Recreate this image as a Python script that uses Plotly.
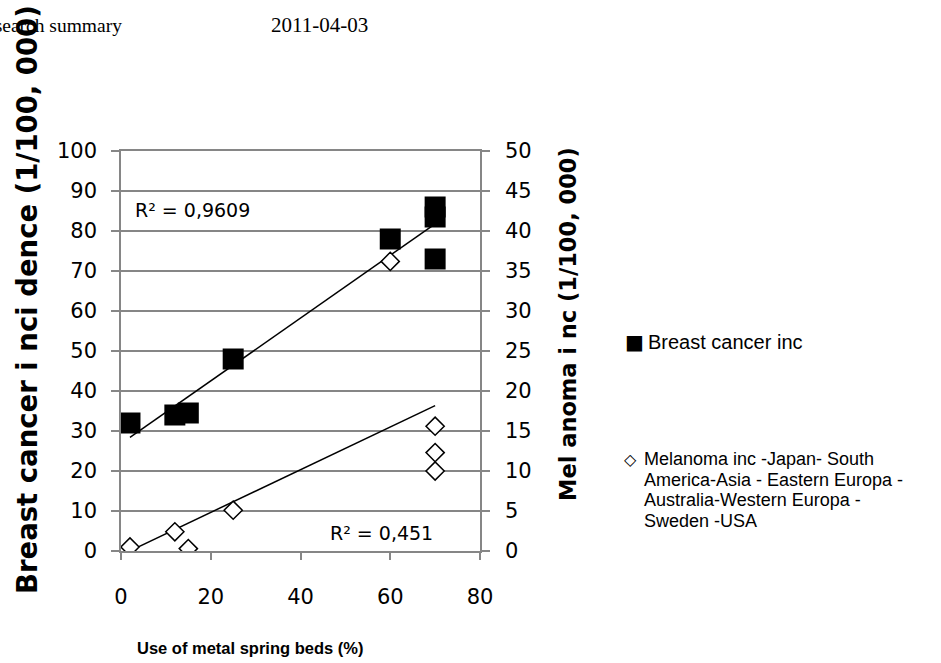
import numpy as np
import plotly.graph_objects as go

# ---- data ----
bed_use = [2, 12, 15, 25, 60, 70, 70, 70]            # Use of metal spring beds (%)
breast_inc = [32, 34, 34.5, 48, 78, 86, 83.5, 73]     # Breast cancer incidence (1/100,000)
melanoma_inc = [0.5, 2.4, 0.3, 5.1, 36.2, 15.6, 12.3, 10.0]  # Melanoma incidence (1/100,000)
x_ticks = [0, 20, 40, 60, 80]
r2_breast = "R² = 0,9609"
r2_melanoma = "R² = 0,451"
legend_breast = "Breast cancer inc"
legend_melanoma = ["Melanoma inc -Japan- South",
                   "America-Asia - Eastern Europa -",
                   "Australia-Western Europa -",
                   "Sweden -USA"]

# ---- layout helpers (pixel -> paper) ----
W, H = 941, 663
L, R, T, B = 121, 480, 151, 551
def px(x):
    return (x - L) / (R - L)
def py(y):
    return (B - y) / (B - T)

GRID = "#868686"
TICKFONT = dict(family="DejaVu Sans", size=21, color="black")

# trendlines from data
xs = np.array([min(bed_use), max(bed_use)], dtype=float)
cb = np.polyfit(bed_use, breast_inc, 1)
cm = np.polyfit(bed_use, melanoma_inc, 1)

fig = go.Figure()
fig.add_trace(go.Scatter(x=xs, y=np.polyval(cb, xs), mode="lines",
                         line=dict(color="black", width=1.5), showlegend=False, yaxis="y"))
fig.add_trace(go.Scatter(x=xs, y=np.polyval(cm, xs), mode="lines",
                         line=dict(color="black", width=1.5), showlegend=False, yaxis="y2"))
fig.add_trace(go.Scatter(x=bed_use, y=breast_inc, mode="markers", name=legend_breast,
                         marker=dict(symbol="square", size=21, color="black"),
                         showlegend=False, yaxis="y"))
fig.add_trace(go.Scatter(x=bed_use, y=melanoma_inc, mode="markers", name=legend_melanoma[0],
                         marker=dict(symbol="diamond", size=14, color="white",
                                     line=dict(color="black", width=1.5)),
                         showlegend=False, yaxis="y2"))

fig.update_layout(
    width=W, height=H,
    margin=dict(l=L, r=W - R, t=T, b=H - B, pad=0),
    plot_bgcolor="white", paper_bgcolor="white",
    showlegend=False,
    xaxis=dict(range=[0, 80], tickvals=x_ticks, showgrid=False, zeroline=False,
               showline=True, linecolor=GRID, linewidth=1.5, mirror=True,
               ticks="outside", ticklen=7, tickcolor=GRID, tickwidth=1.5,
               tickfont=TICKFONT, ticklabelstandoff=19),
    yaxis=dict(range=[0, 100], dtick=10, showgrid=True, gridcolor=GRID, gridwidth=1.5,
               zeroline=False, showline=True, linecolor=GRID, linewidth=1.5,
               ticks="outside", ticklen=8, tickcolor=GRID, tickwidth=1.5,
               tickfont=TICKFONT, ticklabelstandoff=10),
    yaxis2=dict(range=[0, 50], dtick=5, overlaying="y", side="right", showgrid=False,
                zeroline=False, showline=True, linecolor=GRID, linewidth=1.5,
                ticks="outside", ticklen=8, tickcolor=GRID, tickwidth=1.5,
                tickfont=TICKFONT, ticklabelstandoff=11),
)

ann = []
def add(text, x, y, size, family="DejaVu Sans", xanchor="center", yanchor="middle",
        angle=0, bold=False):
    t = f"<b>{text}</b>" if bold else text
    ann.append(dict(text=t, xref="paper", yref="paper", x=px(x), y=py(y),
                    xanchor=xanchor, yanchor=yanchor, textangle=angle, showarrow=False,
                    font=dict(family=family, size=size, color="black")))

# header
add("Research summary", 124, 25, 19.5, family="Liberation Serif", xanchor="right")
add("2011-04-03", 319, 25, 21, family="Liberation Serif")
# axis titles
add("Breast cancer i nci dence (1/100, 000)", 27, 300, 27.5, bold=True, angle=-90)
add("Mel anoma i nc (1/100, 000)", 568, 324, 22.5, bold=True, angle=-90)
add("Use of metal spring beds (%)", 250, 648, 16.5, family="Liberation Sans", bold=True)
# R^2 labels
add(r2_breast, 133, 210, 19, xanchor="left")
add(r2_melanoma, 328, 533, 19, xanchor="left")
# legend
add("■", 634, 342, 20, xanchor="center")
add(legend_breast, 646, 342, 20, family="Liberation Sans", xanchor="left")
add("◇", 630, 459, 16, xanchor="center")
for i, line in enumerate(legend_melanoma):
    add(line, 642, 459 + i * 20.5, 18, family="Liberation Sans", xanchor="left")

fig.update_layout(annotations=ann)
fig.write_html("out.html")
